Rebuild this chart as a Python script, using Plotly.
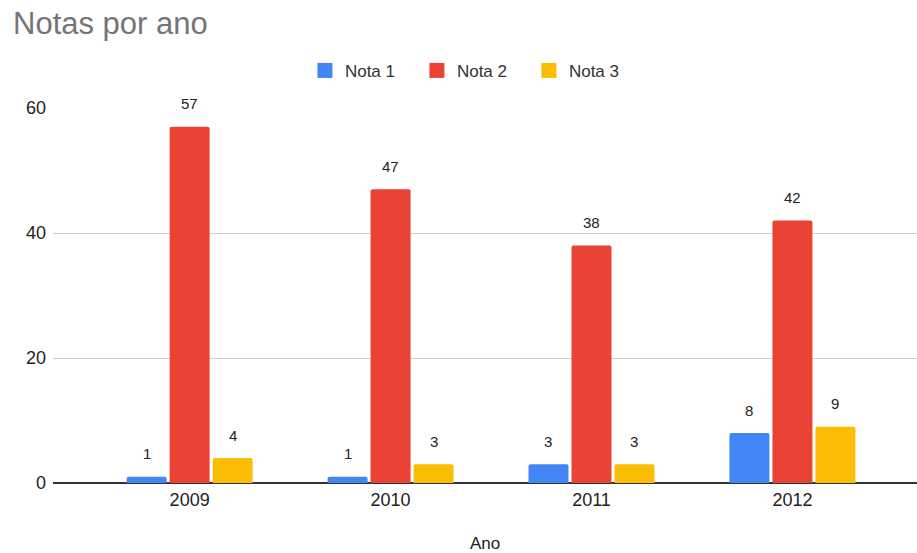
import plotly.graph_objects as go

# Values per year for each grade
anos = ["2009", "2010", "2011", "2012"]
nota_1 = [1, 1, 3, 8]
nota_2 = [57, 47, 38, 42]
nota_3 = [4, 3, 3, 9]

series = [
    ("Nota 1", nota_1, "#4285F4"),
    ("Nota 2", nota_2, "#EA4335"),
    ("Nota 3", nota_3, "#FBBC04"),
]

FONT = "Liberation Sans, Arial, sans-serif"
BARGAP = 0.358

fig = go.Figure()
for nome, vals, cor in series:
    fig.add_trace(go.Bar(
        name=nome, x=anos, y=vals, legendgroup=nome, showlegend=False,
        marker=dict(color=cor, line=dict(width=0), cornerradius=2),
        hoverinfo="x+y+name",
    ))

# Legend entries drawn as plain square swatches
for nome, vals, cor in series:
    fig.add_trace(go.Scatter(
        name=nome, x=[None], y=[None], mode="markers", legendgroup=nome,
        marker=dict(symbol="square", size=15, color=cor),
        hoverinfo="skip",
    ))

# Value labels above each bar, placed at the bar's group offset
slot = (1 - BARGAP) / len(series)
annotations = []
for j, (nome, vals, cor) in enumerate(series):
    off = (j - (len(series) - 1) / 2) * slot
    for i, v in enumerate(vals):
        annotations.append(dict(
            x=i + off, y=v, xref="x", yref="y",
            text=str(v), showarrow=False,
            yanchor="middle", yshift=23,
            font=dict(family=FONT, size=15, color="#222222"),
        ))

fig.update_layout(
    width=917, height=553,
    margin=dict(l=53, r=0, t=108, b=70),
    paper_bgcolor="white", plot_bgcolor="white",
    barmode="group", bargap=BARGAP, bargroupgap=0.07,
    font=dict(family=FONT, color="#444444"),
    title=dict(
        text="Notas por ano", xref="container", x=13 / 917, xanchor="left",
        yref="container", y=1 - 23 / 553, yanchor="middle",
        font=dict(family=FONT, size=31, color="#757575"),
    ),
    legend=dict(
        orientation="h", x=0.486, xanchor="center", xref="paper",
        y=1.099, yanchor="middle",
        font=dict(family=FONT, size=17, color="#333333"),
        itemwidth=30, itemsizing="trace", traceorder="normal",
        entrywidth=67, entrywidthmode="pixels",
    ),
    xaxis=dict(
        type="category", range=[-0.68, 3.62],
        showgrid=False, showline=False, zeroline=False, ticks="",
        tickfont=dict(family=FONT, size=18, color="#222222"),
        ticklabelstandoff=4,
        title=dict(text="Ano", standoff=30,
                   font=dict(family=FONT, size=17, color="#222222")),
    ),
    yaxis=dict(
        range=[0, 60], tickvals=[0, 20, 40, 60],
        showgrid=True, gridcolor="#d0d0d0", gridwidth=1,
        zeroline=True, zerolinecolor="#333333", zerolinewidth=1.5,
        showline=False, ticks="",
        tickfont=dict(family=FONT, size=18, color="#222222"),
        ticklabelstandoff=6,
    ),
    annotations=annotations,
)

fig.write_html("out.html")
